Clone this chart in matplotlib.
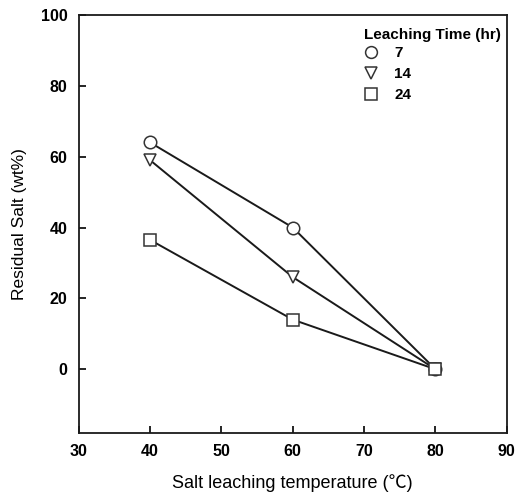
import matplotlib
matplotlib.use('Agg')
from matplotlib import pyplot as plt
from matplotlib.lines import Line2D

plt.rcParams['font.family'] = ['Liberation Sans', 'Noto Sans CJK SC', 'DejaVu Sans']

temperature = [40, 60, 80]
salt_7hr = [64, 40, 0]
salt_14hr = [59, 26, 0]
salt_24hr = [36.5, 14, 0]
times = ['7', '14', '24']
markers = ['o', 'v', 's']

fig = plt.figure(figsize=(5.15, 4.98), dpi=100)
ax = fig.add_axes([0.153, 0.1305, 0.831, 0.8395])

for vals, m in zip([salt_7hr, salt_14hr, salt_24hr], markers):
    ax.plot(temperature, vals, color='#1a1a1a', lw=1.4, marker=m,
            markersize=9, markerfacecolor='white', markeredgecolor='#333333',
            markeredgewidth=1.1)

ax.set_xlim(30, 90)
ax.set_ylim(-18, 100)
ax.set_xticks([30, 40, 50, 60, 70, 80, 90])
ax.set_yticks([0, 20, 40, 60, 80, 100])
ax.tick_params(direction='in', length=5, width=1.2, labelsize=11.5, pad=8)
for lab in ax.get_xticklabels() + ax.get_yticklabels():
    lab.set_fontweight('bold')
for s in ax.spines.values():
    s.set_linewidth(1.3)
    s.set_color('#1a1a1a')

ax.set_xlabel('Salt leaching temperature (\u2103)', fontsize=13, labelpad=11)
ax.set_ylabel('Residual Salt (wt%)', fontsize=12.5, labelpad=10)

handles = [Line2D([], [], ls='none', marker=m, markersize=8.5, markerfacecolor='white',
                  markeredgecolor='#333333', markeredgewidth=1.1) for m in markers]
leg = ax.legend(handles, times, loc='upper right', bbox_to_anchor=(1.0, 0.983),
                title='Leaching Time (hr)', frameon=False, handletextpad=1.0,
                handlelength=1.0, labelspacing=0.45, borderaxespad=0.1,
                borderpad=0.3, alignment='left', title_fontsize=11,
                prop={'weight': 'bold', 'size': 11})
leg.get_title().set_fontweight('bold')
leg._legend_box.sep = 3

fig.savefig('out.png', dpi=100)
